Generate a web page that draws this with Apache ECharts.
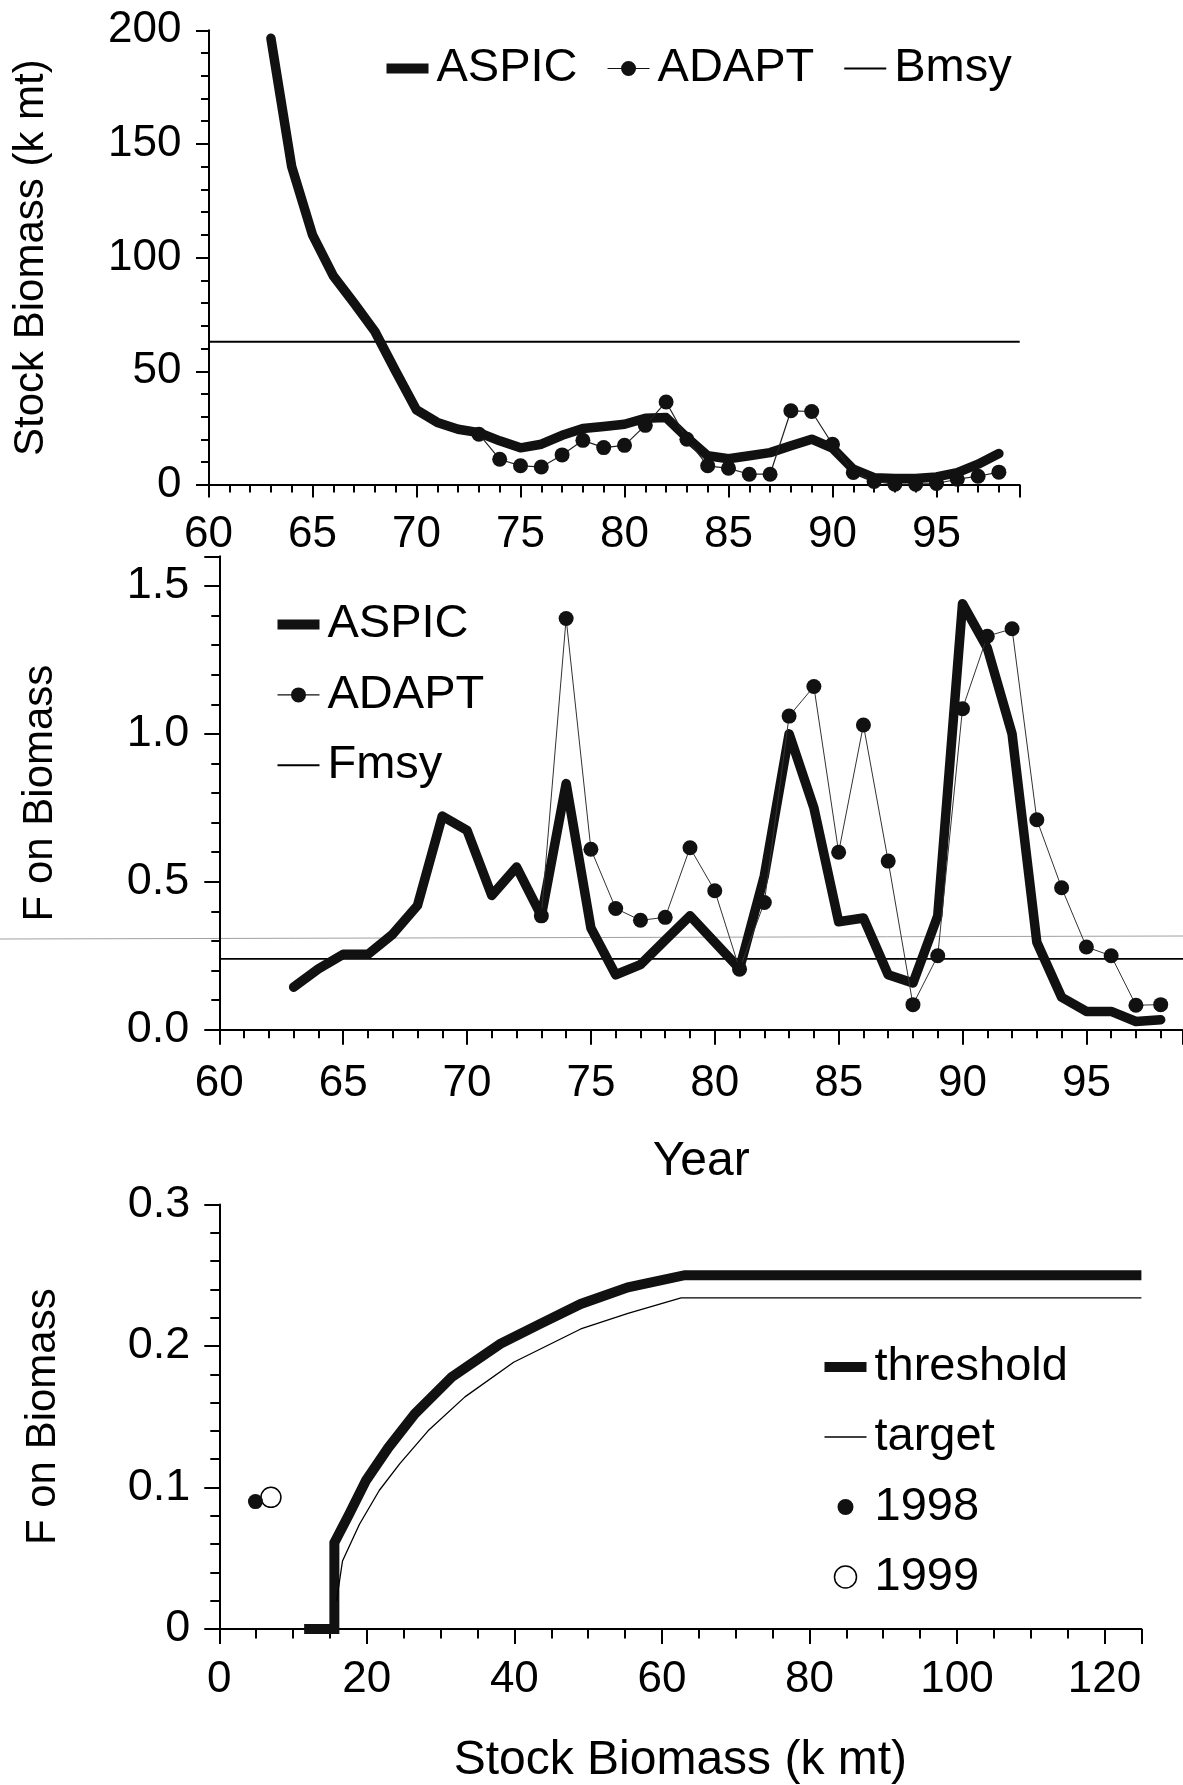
<!DOCTYPE html>
<html>
<head>
<meta charset="utf-8">
<script src="https://cdn.jsdelivr.net/npm/echarts@6/dist/echarts.min.js"></script>
<style>
  html, body { margin: 0; padding: 0; background: #fff; }
  #chart { width: 1183px; height: 1785px; }
</style>
</head>
<body>
<div id="chart"></div>
<script>
// ---- Stock biomass (k mt) by year ----
const aspicYears = [63, 64, 65, 66, 67, 68, 69, 70, 71, 72, 73, 74, 75, 76, 77, 78, 79, 80,
                    81, 82, 83, 84, 85, 86, 87, 88, 89, 90, 91, 92, 93, 94, 95, 96, 97, 98];
const aspicBiomass = [196.5, 140, 110, 92, 80, 67.5, 50, 33, 27.5, 24.5, 23, 19.4, 16.3, 17.9,
                      21.8, 24.8, 25.7, 26.7, 29.3, 29.6, 20.8, 12.8, 11.5, 12.8, 14.2, 17.2,
                      20.1, 16.2, 6.9, 3.2, 2.8, 2.8, 3.5, 5.4, 9.1, 13.8];
const adaptYears = [73, 74, 75, 76, 77, 78, 79, 80, 81, 82, 83, 84, 85,
                    86, 87, 88, 89, 90, 91, 92, 93, 94, 95, 96, 97, 98];
const adaptBiomass = [22.3, 11.3, 8.4, 7.9, 13.2, 19.6, 16.4, 17.4, 26.2, 36.5, 20.1, 8.4, 7.3,
                      4.7, 4.7, 32.6, 32.3, 17.9, 5.5, 1.5, 0.3, 0.3, 0.6, 2.5, 3.8, 5.6];
const bmsy = 63;
const bmsyYears = [60, 99];

// ---- Fishing mortality on biomass by year ----
const aspicF = [0.144, 0.206, 0.255, 0.255, 0.323, 0.42, 0.722, 0.674, 0.454, 0.55, 0.385, 0.832,
                0.344, 0.186, 0.22, 0.303, 0.385, 0.296, 0.206, 0.52, 1.0, 0.75, 0.365, 0.378,
                0.186, 0.158, 0.385, 1.44, 1.29, 1.0, 0.296, 0.11, 0.062, 0.062, 0.028, 0.034];
const adaptF = [0.385, 1.39, 0.61, 0.41, 0.37, 0.38, 0.615, 0.47, 0.205, 0.43, 1.06, 1.16, 0.60,
                1.03, 0.57, 0.085, 0.25, 1.085, 1.33, 1.355, 0.71, 0.48, 0.28, 0.25, 0.083, 0.085];
const fmsy = 0.24;
const fmsyYears = [60, 98.9];

// ---- Control rule: F against stock biomass ----
const thresholdB = [11.5, 15.6, 15.6, 17.6, 19.9, 22.9, 26.5, 31.5, 38.1, 43.5, 49.0, 55.4, 63.1, 125];
const thresholdF = [0, 0, 0.061, 0.081, 0.105, 0.128, 0.152, 0.178, 0.2015, 0.2156, 0.2297, 0.2415, 0.25, 0.25];
const targetB = [15.9, 16.7, 19.0, 21.7, 24.5, 28.3, 33.3, 39.9, 49.0, 55.4, 62.6, 125];
const targetF = [0.02, 0.048, 0.074, 0.098, 0.117, 0.140, 0.164, 0.1885, 0.212, 0.223, 0.234, 0.234];
const status1998 = [4.9, 0.090];
const status1999 = [7.0, 0.093];

const FONT = '"Liberation Sans", Arial, Helvetica, sans-serif';
const INK = '#111';
const pairs = (xs, ys) => xs.map((x, i) => [x, ys[i]]);

const ICON_THICK = 'path://M0,0H42V10H0Z';
const ICON_THIN = 'path://M0,0H42V2H0Z';
const ICON_HAIR = 'path://M0,0H42V1.3H0Z';
const ICON_DOTLINE = 'path://M0,7.4H42V8.6H0Z M13.5,8A7.5,7.5 0 1 1 28.5,8A7.5,7.5 0 1 1 13.5,8Z';
const ICON_DOT = 'path://M0,8L42,8 M13,8A8,8 0 1 1 29,8A8,8 0 1 1 13,8Z';
const ICON_RING = 'path://M0,10A10,10 0 1 1 20,10A10,10 0 1 1 0,10Z';

function valueAxis(o) {
  return Object.assign({
    type: 'value',
    splitLine: { show: false },
    axisLine: { show: true, onZero: false, lineStyle: { color: '#000', width: 2 } },
    axisTick: { show: true, length: o.tick, lineStyle: { color: '#000', width: 2 } },
    minorTick: { show: true, splitNumber: o.minor, length: o.minorTick, lineStyle: { color: '#000', width: 2 } },
    axisLabel: {
      color: '#000', fontFamily: FONT, fontSize: o.labelSize || 44, margin: o.margin,
      showMaxLabel: o.showMax !== false, formatter: o.fmt
    },
    nameTextStyle: { color: '#000', fontFamily: FONT, fontSize: o.nameSize || 42 }
  }, o.extra);
}

const legendText = { color: '#000', fontFamily: FONT, fontSize: 47, padding: [0, 0, 0, 3] };
const solid = { color: INK, borderWidth: 0, opacity: 1 };

const option = {
  animation: false,
  backgroundColor: '#fff',
  grid: [
    { left: 208.5, right: 163.3, top: 30.3, height: 454.6, outerBoundsMode: 'none' },
    { left: 219.3, right: 0, top: 556.3, height: 473.5, outerBoundsMode: 'none' },
    { left: 219.3, width: 922.1, top: 1204.5, height: 424.4, outerBoundsMode: 'none' }
  ],
  xAxis: [
    valueAxis({ tick: 12.5, minor: 5, minorTick: 7.5, margin: 28, showMax: false,
      extra: { gridIndex: 0, min: 60, max: 99, interval: 5 } }),
    valueAxis({ tick: 15, minor: 5, minorTick: 8.5, margin: 32, showMax: false, nameSize: 48,
      extra: { gridIndex: 1, min: 60, max: 98.9, interval: 5, name: 'Year',
               nameLocation: 'middle', nameGap: 108 } }),
    valueAxis({ tick: 15, minor: 4, minorTick: 9.5, margin: 29, showMax: false, nameSize: 48,
      extra: { gridIndex: 2, min: 0, max: 125, interval: 20, name: 'Stock Biomass (k mt)',
               nameLocation: 'middle', nameGap: 108 } })
  ],
  yAxis: [
    valueAxis({ tick: 12.5, minor: 5, minorTick: 7.5, margin: 27,
      extra: { gridIndex: 0, min: 0, max: 200, interval: 50, name: 'Stock Biomass (k mt)',
               nameLocation: 'middle', nameGap: 156 } }),
    valueAxis({ tick: 15, minor: 5, minorTick: 8, margin: 30, showMax: false, labelSize: 45,
      fmt: v => v.toFixed(1),
      extra: { gridIndex: 1, min: 0, max: 1.6, interval: 0.5, name: 'F on Biomass',
               nameLocation: 'middle', nameGap: 158 } }),
    valueAxis({ tick: 15, minor: 5, minorTick: 9, margin: 29, labelSize: 45,
      fmt: v => (v === 0 ? '0' : v.toFixed(1)),
      extra: { gridIndex: 2, min: 0, max: 0.3, interval: 0.1, name: 'F on Biomass',
               nameLocation: 'middle', nameGap: 155 } })
  ],
  legend: [
    {
      orient: 'horizontal', left: 381.5, top: 40, itemWidth: 42, itemHeight: 16, itemGap: 30,
      selectedMode: false, textStyle: legendText,
      data: [
        { name: 'ASPIC', icon: ICON_THICK, itemStyle: solid },
        { name: 'ADAPT', icon: ICON_DOTLINE, itemStyle: solid },
        { name: 'Bmsy', icon: ICON_THIN, itemStyle: { color: '#000', borderWidth: 0, opacity: 1 } }
      ]
    },
    {
      orient: 'vertical', left: 272.5, top: 596, itemWidth: 42, itemHeight: 16, itemGap: 23.4,
      selectedMode: false, textStyle: legendText,
      data: [
        { name: 'ASPIC', icon: ICON_THICK, itemStyle: solid },
        { name: 'ADAPT', icon: ICON_DOTLINE, itemStyle: solid },
        { name: 'Fmsy', icon: ICON_THIN, itemStyle: { color: '#000', borderWidth: 0, opacity: 1 } }
      ]
    },
    {
      orient: 'vertical', left: 819.5, top: 1338.5, itemWidth: 42, itemHeight: 22, itemGap: 23,
      selectedMode: false, textStyle: legendText,
      data: [
        { name: 'threshold', icon: ICON_THICK, itemStyle: solid },
        { name: 'target', icon: ICON_HAIR, itemStyle: { color: '#000', borderWidth: 0, opacity: 1 } },
        { name: '1998', icon: ICON_DOT, itemStyle: solid },
        { name: '1999', icon: ICON_RING,
          itemStyle: { color: '#fff', borderColor: '#000', borderWidth: 1.5, opacity: 1 } }
      ]
    }
  ],
  graphic: [
    // faint hairline running across the page through the middle panel
    { type: 'line', silent: true, z: 0,
      shape: { x1: 0, y1: 939, x2: 1183, y2: 936 },
      style: { stroke: '#a0a0a0', lineWidth: 1 } }
  ],
  series: [
    // top panel: biomass
    { name: 'ASPIC', type: 'line', xAxisIndex: 0, yAxisIndex: 0, symbol: 'none',
      data: pairs(aspicYears, aspicBiomass), color: INK,
      lineStyle: { color: INK, width: 9.5, cap: 'round', join: 'round' }, z: 3 },
    { name: 'ADAPT', type: 'line', xAxisIndex: 0, yAxisIndex: 0, symbol: 'circle', symbolSize: 15,
      data: pairs(adaptYears, adaptBiomass), color: INK,
      itemStyle: { color: INK, opacity: 1 }, lineStyle: { color: '#222', width: 1.2 }, z: 4 },
    { name: 'Bmsy', type: 'line', xAxisIndex: 0, yAxisIndex: 0, symbol: 'none',
      data: bmsyYears.map(x => [x, bmsy]), color: '#000',
      lineStyle: { color: '#000', width: 2 }, z: 2 },

    // middle panel: F by year
    { name: 'ASPIC', type: 'line', xAxisIndex: 1, yAxisIndex: 1, symbol: 'none',
      data: pairs(aspicYears, aspicF), color: INK,
      lineStyle: { color: INK, width: 9.5, cap: 'round', join: 'round' }, z: 3 },
    { name: 'ADAPT', type: 'line', xAxisIndex: 1, yAxisIndex: 1, symbol: 'circle', symbolSize: 15,
      data: pairs(adaptYears, adaptF), color: INK,
      itemStyle: { color: INK, opacity: 1 }, lineStyle: { color: '#333', width: 1 }, z: 4 },
    { name: 'Fmsy', type: 'line', xAxisIndex: 1, yAxisIndex: 1, symbol: 'none',
      data: fmsyYears.map(x => [x, fmsy]), color: '#000',
      lineStyle: { color: '#000', width: 1.8 }, z: 2 },

    // bottom panel: control rule
    { name: 'threshold', type: 'line', xAxisIndex: 2, yAxisIndex: 2, symbol: 'none',
      data: pairs(thresholdB, thresholdF), color: INK,
      lineStyle: { color: INK, width: 10, join: 'miter' }, z: 3 },
    { name: 'target', type: 'line', xAxisIndex: 2, yAxisIndex: 2, symbol: 'none',
      data: pairs(targetB, targetF), color: '#000',
      lineStyle: { color: '#000', width: 1.3 }, z: 3 },
    { name: '1999', type: 'scatter', xAxisIndex: 2, yAxisIndex: 2, symbol: 'circle', symbolSize: 20,
      data: [status1999],
      itemStyle: { color: '#fff', borderColor: '#000', borderWidth: 1.5, opacity: 1 }, z: 4 },
    { name: '1998', type: 'scatter', xAxisIndex: 2, yAxisIndex: 2, symbol: 'circle', symbolSize: 15,
      data: [status1998], itemStyle: { color: INK, opacity: 1 }, z: 5 }
  ]
};

const chart = echarts.init(document.getElementById('chart'), null, { renderer: 'canvas' });
chart.setOption(option);
</script>
</body>
</html>
